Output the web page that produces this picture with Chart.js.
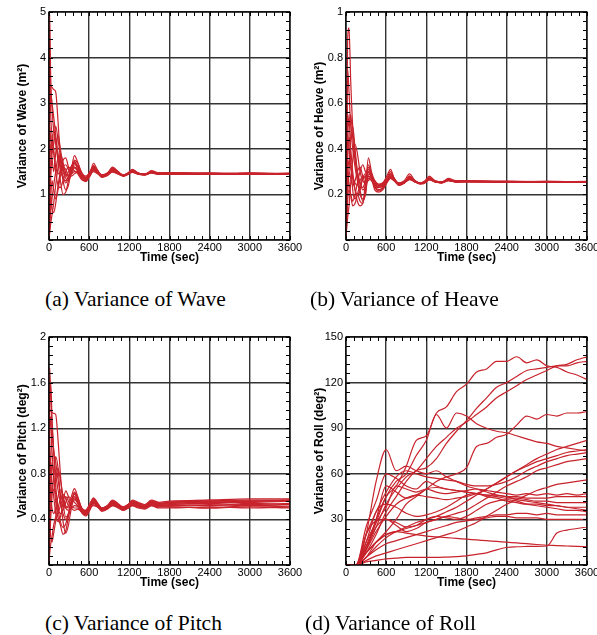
<!DOCTYPE html>
<html lang="en">
<head>
  <meta charset="UTF-8" />
  <title>Variance time histories</title>
  <script src="https://cdn.jsdelivr.net/npm/chart.js@4.4.0/dist/chart.umd.min.js"></script>
  <style>
    * { margin: 0; padding: 0; box-sizing: border-box; }
    body { background: #fff; width: 597px; height: 635px; position: relative; overflow: hidden; }
    canvas { position: absolute; }
    .cap { position: absolute; font-family: 'Liberation Serif', 'Times New Roman', serif; font-size: 21.5px; line-height: 22px; color: #000; white-space: nowrap; }
  </style>
</head>
<body>
  <canvas id="waveChart" width="305" height="270" style="left:0;top:0"></canvas>
  <canvas id="heaveChart" width="300" height="270" style="left:297px;top:0"></canvas>
  <canvas id="pitchChart" width="305" height="270" style="left:0;top:325px"></canvas>
  <canvas id="rollChart" width="300" height="270" style="left:297px;top:325px"></canvas>

  <div class="cap" style="left:45px;top:288px">(a) Variance of Wave</div>
  <div class="cap" style="left:310px;top:288px">(b) Variance of Heave</div>
  <div class="cap" style="left:45px;top:612px">(c) Variance of Pitch</div>
  <div class="cap" style="left:305px;top:612px">(d) Variance of Roll</div>

  <script>
    // sample times (sec) for wave / heave / pitch runs
    const tEarly = [0, 10, 25, 45, 70, 100, 135, 170, 210, 250, 290, 335, 380, 430, 490, 550, 610, 665, 720, 790,
                    870, 950, 1030, 1110, 1180, 1245, 1330, 1430, 1530, 1640, 1800, 2400, 3000, 3600];

    // variance of wave (m^2), one row per run
    const waveRuns = [
      [0.1, 4.95, 3.6, 2.9, 2.4, 2.1, 1.8, 1.55, 1.35, 1.3, 1.4, 1.6, 1.72, 1.6, 1.38, 1.36, 1.48, 1.58, 1.5, 1.4, 1.45, 1.55, 1.48, 1.42, 1.47, 1.52, 1.46, 1.44, 1.5, 1.46, 1.47, 1.45, 1.46, 1.45],
      [2.2, 3.4, 3.38, 3.35, 3.3, 3.25, 2.6, 1.8, 1.3, 1.1, 1.2, 1.55, 1.85, 1.7, 1.42, 1.3, 1.45, 1.68, 1.55, 1.38, 1.45, 1.6, 1.5, 1.4, 1.46, 1.55, 1.47, 1.43, 1.52, 1.47, 1.48, 1.46, 1.45, 1.46],
      [0.05, 0.3, 0.6, 0.9, 1.2, 1.5, 1.8, 1.7, 1.5, 1.35, 1.3, 1.45, 1.6, 1.55, 1.4, 1.35, 1.45, 1.55, 1.5, 1.42, 1.44, 1.52, 1.47, 1.42, 1.46, 1.5, 1.45, 1.44, 1.48, 1.45, 1.46, 1.44, 1.45, 1.44],
      [1.0, 2.9, 3.2, 3.0, 2.7, 2.3, 1.9, 1.6, 1.4, 1.25, 1.35, 1.5, 1.68, 1.62, 1.45, 1.33, 1.42, 1.6, 1.52, 1.4, 1.43, 1.56, 1.5, 1.41, 1.45, 1.53, 1.47, 1.45, 1.49, 1.46, 1.45, 1.47, 1.44, 1.46],
      [0.3, 0.8, 1.3, 2.0, 2.4, 2.2, 1.7, 1.3, 1.0, 1.05, 1.3, 1.5, 1.6, 1.5, 1.35, 1.3, 1.42, 1.55, 1.48, 1.39, 1.42, 1.53, 1.46, 1.4, 1.44, 1.5, 1.45, 1.43, 1.47, 1.44, 1.45, 1.45, 1.46, 1.44],
      [0.5, 1.5, 2.1, 1.8, 1.5, 1.9, 2.3, 2.0, 1.6, 1.4, 1.5, 1.62, 1.7, 1.55, 1.4, 1.38, 1.5, 1.62, 1.52, 1.43, 1.47, 1.57, 1.49, 1.43, 1.47, 1.53, 1.47, 1.45, 1.5, 1.47, 1.46, 1.46, 1.47, 1.45],
      [0.0, 0.4, 0.9, 1.3, 1.1, 0.9, 1.1, 1.4, 1.6, 1.65, 1.55, 1.45, 1.5, 1.48, 1.33, 1.28, 1.4, 1.52, 1.47, 1.38, 1.41, 1.5, 1.45, 1.4, 1.44, 1.49, 1.44, 1.43, 1.47, 1.44, 1.44, 1.44, 1.45, 1.45],
      [1.6, 2.5, 2.2, 1.9, 2.1, 2.5, 2.2, 1.85, 1.55, 1.45, 1.42, 1.55, 1.65, 1.6, 1.46, 1.4, 1.47, 1.6, 1.53, 1.42, 1.46, 1.55, 1.49, 1.42, 1.46, 1.51, 1.46, 1.44, 1.49, 1.46, 1.47, 1.45, 1.46, 1.46],
      [0.2, 0.6, 1.0, 0.7, 0.6, 0.8, 1.2, 1.5, 1.75, 1.8, 1.6, 1.4, 1.45, 1.5, 1.38, 1.32, 1.44, 1.5, 1.46, 1.41, 1.43, 1.49, 1.45, 1.41, 1.45, 1.48, 1.45, 1.44, 1.47, 1.45, 1.45, 1.44, 1.45, 1.45],
      [3.0, 4.2, 2.8, 2.3, 1.9, 1.6, 1.45, 1.5, 1.6, 1.55, 1.4, 1.48, 1.58, 1.52, 1.37, 1.35, 1.46, 1.57, 1.5, 1.4, 1.44, 1.54, 1.47, 1.42, 1.46, 1.52, 1.46, 1.44, 1.49, 1.45, 1.46, 1.46, 1.45, 1.46],
      [0.8, 1.2, 1.6, 2.3, 2.0, 1.5, 1.2, 1.15, 1.3, 1.5, 1.6, 1.55, 1.52, 1.45, 1.32, 1.3, 1.4, 1.54, 1.48, 1.38, 1.42, 1.51, 1.46, 1.41, 1.45, 1.5, 1.45, 1.43, 1.48, 1.45, 1.46, 1.45, 1.44, 1.45],
      [0.05, 0.15, 0.35, 0.55, 0.8, 1.2, 1.6, 1.9, 1.7, 1.45, 1.35, 1.5, 1.75, 1.68, 1.48, 1.36, 1.44, 1.63, 1.53, 1.41, 1.45, 1.58, 1.5, 1.42, 1.46, 1.54, 1.47, 1.44, 1.5, 1.46, 1.46, 1.45, 1.46, 1.45]
    ];

    // variance of heave (m^2)
    const heaveRuns = [
      [0.02, 0.5, 0.88, 0.93, 0.7, 0.5, 0.38, 0.3, 0.25, 0.22, 0.24, 0.36, 0.3, 0.26, 0.24, 0.25, 0.28, 0.31, 0.27, 0.25, 0.26, 0.29, 0.26, 0.25, 0.26, 0.28, 0.26, 0.255, 0.27, 0.26, 0.26, 0.258, 0.256, 0.257],
      [0.3, 0.55, 0.52, 0.5, 0.55, 0.45, 0.35, 0.28, 0.22, 0.17, 0.2, 0.3, 0.27, 0.23, 0.22, 0.23, 0.26, 0.29, 0.27, 0.24, 0.25, 0.28, 0.26, 0.25, 0.255, 0.275, 0.26, 0.255, 0.265, 0.258, 0.258, 0.255, 0.257, 0.255],
      [0.0, 0.05, 0.1, 0.15, 0.25, 0.35, 0.42, 0.38, 0.3, 0.26, 0.25, 0.27, 0.26, 0.24, 0.235, 0.245, 0.26, 0.27, 0.26, 0.245, 0.25, 0.265, 0.255, 0.248, 0.252, 0.265, 0.255, 0.252, 0.26, 0.255, 0.256, 0.254, 0.256, 0.255],
      [0.1, 0.2, 0.35, 0.45, 0.4, 0.3, 0.22, 0.17, 0.15, 0.16, 0.22, 0.28, 0.27, 0.22, 0.21, 0.22, 0.25, 0.27, 0.26, 0.24, 0.25, 0.27, 0.255, 0.245, 0.25, 0.27, 0.256, 0.25, 0.262, 0.255, 0.257, 0.256, 0.254, 0.256],
      [0.05, 0.15, 0.25, 0.3, 0.27, 0.24, 0.26, 0.3, 0.32, 0.28, 0.25, 0.26, 0.28, 0.26, 0.245, 0.25, 0.265, 0.28, 0.265, 0.25, 0.255, 0.27, 0.258, 0.25, 0.255, 0.268, 0.257, 0.253, 0.263, 0.256, 0.257, 0.255, 0.256, 0.254],
      [0.45, 0.6, 0.48, 0.4, 0.33, 0.28, 0.25, 0.24, 0.26, 0.28, 0.27, 0.32, 0.29, 0.25, 0.23, 0.24, 0.27, 0.3, 0.27, 0.245, 0.25, 0.28, 0.26, 0.248, 0.254, 0.272, 0.258, 0.253, 0.265, 0.257, 0.257, 0.256, 0.255, 0.256],
      [0.01, 0.08, 0.18, 0.22, 0.2, 0.17, 0.2, 0.25, 0.3, 0.33, 0.3, 0.27, 0.265, 0.25, 0.24, 0.245, 0.26, 0.275, 0.262, 0.248, 0.252, 0.268, 0.256, 0.249, 0.253, 0.266, 0.256, 0.252, 0.261, 0.255, 0.256, 0.255, 0.255, 0.255],
      [0.2, 0.35, 0.75, 0.65, 0.5, 0.4, 0.32, 0.26, 0.2, 0.18, 0.2, 0.29, 0.28, 0.24, 0.22, 0.228, 0.255, 0.285, 0.268, 0.242, 0.25, 0.275, 0.258, 0.247, 0.253, 0.27, 0.257, 0.252, 0.263, 0.256, 0.258, 0.256, 0.257, 0.254],
      [0.15, 0.25, 0.3, 0.35, 0.32, 0.27, 0.22, 0.2, 0.22, 0.27, 0.29, 0.28, 0.27, 0.25, 0.24, 0.25, 0.262, 0.272, 0.26, 0.248, 0.252, 0.266, 0.255, 0.249, 0.252, 0.264, 0.255, 0.252, 0.26, 0.255, 0.255, 0.254, 0.255, 0.256],
      [0.05, 0.1, 0.2, 0.3, 0.45, 0.5, 0.4, 0.3, 0.25, 0.23, 0.26, 0.31, 0.28, 0.245, 0.23, 0.236, 0.258, 0.29, 0.27, 0.244, 0.25, 0.272, 0.257, 0.248, 0.253, 0.268, 0.256, 0.252, 0.262, 0.256, 0.256, 0.257, 0.255, 0.255],
      [0.3, 0.4, 0.3, 0.25, 0.2, 0.15, 0.16, 0.2, 0.24, 0.27, 0.28, 0.3, 0.27, 0.24, 0.23, 0.24, 0.26, 0.28, 0.265, 0.246, 0.251, 0.27, 0.256, 0.248, 0.253, 0.267, 0.256, 0.252, 0.262, 0.255, 0.256, 0.255, 0.256, 0.255],
      [0.08, 0.3, 0.45, 0.55, 0.35, 0.22, 0.18, 0.2, 0.17, 0.16, 0.25, 0.33, 0.29, 0.235, 0.215, 0.225, 0.255, 0.29, 0.268, 0.243, 0.25, 0.274, 0.257, 0.247, 0.253, 0.27, 0.257, 0.252, 0.263, 0.256, 0.257, 0.255, 0.256, 0.256]
    ];

    // variance of pitch (deg^2)
    const pitchRuns = [
      [0.05, 1.73, 1.5, 1.2, 1.0, 0.9, 0.75, 0.62, 0.55, 0.5, 0.52, 0.6, 0.67, 0.6, 0.5, 0.48, 0.54, 0.59, 0.55, 0.5, 0.52, 0.57, 0.54, 0.51, 0.53, 0.57, 0.55, 0.53, 0.57, 0.55, 0.56, 0.57, 0.58, 0.58],
      [1.2, 1.36, 1.35, 1.34, 1.33, 1.32, 1.1, 0.8, 0.55, 0.42, 0.45, 0.55, 0.62, 0.57, 0.47, 0.44, 0.5, 0.57, 0.53, 0.48, 0.5, 0.55, 0.52, 0.49, 0.51, 0.55, 0.53, 0.51, 0.55, 0.53, 0.54, 0.55, 0.56, 0.56],
      [0.02, 0.2, 0.4, 0.6, 0.8, 0.95, 0.85, 0.6, 0.38, 0.28, 0.35, 0.5, 0.58, 0.55, 0.46, 0.43, 0.48, 0.55, 0.52, 0.47, 0.49, 0.54, 0.51, 0.48, 0.5, 0.54, 0.52, 0.5, 0.54, 0.52, 0.52, 0.53, 0.52, 0.53],
      [0.5, 1.1, 1.3, 1.0, 0.8, 0.62, 0.5, 0.45, 0.48, 0.55, 0.6, 0.58, 0.55, 0.52, 0.48, 0.47, 0.51, 0.55, 0.52, 0.49, 0.5, 0.53, 0.51, 0.49, 0.5, 0.53, 0.51, 0.5, 0.53, 0.51, 0.51, 0.5, 0.51, 0.5],
      [0.1, 0.3, 0.5, 0.7, 0.6, 0.45, 0.38, 0.42, 0.55, 0.65, 0.6, 0.52, 0.5, 0.5, 0.47, 0.48, 0.52, 0.54, 0.52, 0.5, 0.51, 0.53, 0.52, 0.5, 0.51, 0.53, 0.52, 0.51, 0.53, 0.52, 0.53, 0.54, 0.53, 0.54],
      [0.8, 1.0, 0.85, 0.7, 0.65, 0.75, 0.85, 0.75, 0.6, 0.5, 0.48, 0.56, 0.63, 0.58, 0.49, 0.46, 0.52, 0.58, 0.54, 0.49, 0.51, 0.56, 0.53, 0.5, 0.52, 0.56, 0.54, 0.52, 0.56, 0.54, 0.55, 0.56, 0.57, 0.57],
      [0.02, 0.1, 0.18, 0.25, 0.35, 0.42, 0.5, 0.58, 0.62, 0.58, 0.52, 0.5, 0.52, 0.51, 0.46, 0.45, 0.5, 0.53, 0.51, 0.48, 0.49, 0.52, 0.5, 0.48, 0.5, 0.52, 0.5, 0.49, 0.52, 0.5, 0.5, 0.51, 0.5, 0.51],
      [0.3, 0.6, 0.9, 1.2, 1.0, 0.7, 0.5, 0.38, 0.33, 0.36, 0.45, 0.55, 0.6, 0.56, 0.47, 0.45, 0.51, 0.56, 0.53, 0.48, 0.5, 0.55, 0.52, 0.49, 0.51, 0.55, 0.53, 0.51, 0.55, 0.53, 0.54, 0.55, 0.55, 0.56],
      [0.15, 0.45, 0.7, 0.9, 0.75, 0.55, 0.42, 0.35, 0.27, 0.3, 0.42, 0.53, 0.57, 0.54, 0.46, 0.44, 0.5, 0.55, 0.52, 0.48, 0.5, 0.54, 0.51, 0.49, 0.51, 0.54, 0.52, 0.5, 0.54, 0.52, 0.53, 0.52, 0.54, 0.53],
      [0.6, 0.75, 0.6, 0.5, 0.45, 0.5, 0.6, 0.66, 0.6, 0.52, 0.5, 0.54, 0.59, 0.56, 0.5, 0.47, 0.52, 0.57, 0.54, 0.5, 0.52, 0.56, 0.53, 0.51, 0.53, 0.56, 0.54, 0.52, 0.56, 0.54, 0.55, 0.56, 0.56, 0.57],
      [0.05, 0.35, 0.25, 0.2, 0.28, 0.38, 0.45, 0.52, 0.58, 0.6, 0.56, 0.5, 0.48, 0.49, 0.47, 0.47, 0.5, 0.52, 0.51, 0.49, 0.5, 0.52, 0.51, 0.49, 0.5, 0.52, 0.51, 0.5, 0.52, 0.51, 0.51, 0.5, 0.52, 0.51],
      [0.9, 1.4, 1.6, 1.3, 1.0, 0.8, 0.66, 0.55, 0.45, 0.4, 0.44, 0.54, 0.64, 0.59, 0.49, 0.45, 0.51, 0.58, 0.54, 0.49, 0.51, 0.56, 0.53, 0.5, 0.52, 0.56, 0.54, 0.52, 0.56, 0.54, 0.55, 0.57, 0.56, 0.57]
    ];

    // roll runs are sampled every 150 s
    const tRoll = [0, 150, 300, 450, 600, 750, 900, 1050, 1200, 1350, 1500, 1650, 1800, 1950, 2100, 2250, 2400,
                   2550, 2700, 2850, 3000, 3150, 3300, 3450, 3600];

    // variance of roll (deg^2)
    const rollRuns = [
      [0, 0, 12, 30, 45, 52, 65, 82, 85, 100, 104, 114, 119, 127, 129, 134, 134, 137, 133, 135, 131, 130, 127, 125, 122],
      [0, 0, 10, 25, 40, 50, 58, 62, 70, 78, 84, 90, 94, 99, 104, 110, 114, 118, 122, 125, 128, 131, 132, 135, 137],
      [0, 0, 8, 20, 35, 45, 55, 62, 64, 70, 80, 88, 95, 103, 110, 117, 120, 124, 128, 129, 130, 131, 131, 133, 134],
      [0, 0, 12, 28, 45, 55, 60, 72, 82, 99, 90, 100, 98, 93, 90, 88, 87, 85, 83, 81, 80, 78, 77, 76, 75],
      [0, 0, 5, 15, 22, 30, 40, 45, 50, 55, 58, 60, 64, 78, 80, 84, 86, 92, 98, 96, 99, 98, 100, 100, 101],
      [0, 0, 10, 22, 32, 40, 44, 46, 45, 44, 43, 44, 45, 47, 50, 54, 58, 62, 66, 70, 73, 76, 78, 80, 82],
      [0, 0, 5, 12, 18, 22, 25, 28, 30, 32, 35, 38, 42, 46, 50, 54, 58, 62, 65, 68, 70, 72, 74, 75, 76],
      [0, 0, 20, 35, 48, 58, 62, 60, 58, 57, 56, 55, 53, 52, 52, 53, 55, 58, 62, 65, 68, 70, 72, 73, 74],
      [0, 0, 8, 15, 20, 22, 24, 26, 28, 30, 32, 34, 36, 40, 44, 48, 52, 55, 58, 62, 64, 66, 68, 69, 70],
      [0, 0, 3, 6, 8, 10, 12, 14, 16, 18, 20, 22, 25, 28, 32, 36, 40, 43, 46, 49, 51, 53, 54, 55, 56],
      [0, 0, 15, 28, 38, 52, 50, 48, 50, 48, 47, 48, 49, 50, 49, 48, 47, 46, 47, 46, 47, 46, 47, 46, 47],
      [0, 0, 25, 42, 60, 57, 52, 50, 55, 52, 50, 49, 48, 47, 46, 46, 45, 45, 44, 44, 44, 45, 45, 45, 45],
      [0, 0, 10, 30, 52, 48, 44, 46, 50, 51, 50, 49, 48, 47, 46, 45, 44, 44, 43, 42, 42, 41, 41, 41, 41],
      [0, 0, 15, 35, 40, 38, 34, 32, 33, 35, 38, 42, 46, 47, 45, 44, 42, 41, 40, 40, 39, 39, 38, 38, 38],
      [0, 0, 12, 25, 30, 28, 25, 26, 30, 32, 31, 30, 32, 36, 40, 42, 43, 42, 40, 39, 38, 37, 36, 36, 35],
      [0, 0, 20, 29, 30, 26, 22, 24, 28, 30, 32, 31, 30, 31, 32, 33, 33, 34, 34, 33, 34, 33, 33, 33, 33],
      [0, 0, 5, 10, 14, 16, 18, 20, 22, 24, 26, 28, 29, 30, 31, 32, 32, 31, 31, 31, 30, 30, 30, 30, 30],
      [0, 0, 2, 3, 4, 4.5, 5, 5, 5, 5, 5.2, 5.5, 6, 7, 8, 10, 11.5, 12, 12.2, 12.3, 12.5, 21, 23, 24, 25],
      [0, 0, 8, 15, 20, 22, 21, 20, 19, 18.5, 18, 17.5, 17, 16.5, 16, 15.5, 15, 14.5, 14, 13.5, 13, 12.8, 12.5, 12.2, 12],
      [0, 0, 20, 55, 76, 62, 65, 62, 60, 62, 58, 55, 52, 50, 48, 46, 45, 43, 42, 41, 40, 39, 38, 37, 36]
    ];

    const RED = "#c8232c";
    Chart.defaults.font.family = "'Liberation Sans', Arial, sans-serif";
    Chart.defaults.color = "#000";
    Chart.defaults.animation = false;

    // closed frame plus small inward minor ticks on all four sides
    const framePlugin = {
      id: "frame",
      afterDraw(chart, args, opts) {
        const { ctx, chartArea: a, scales } = chart;
        const x = scales.x, y = scales.y;
        ctx.save();
        ctx.strokeStyle = "#000";
        ctx.lineWidth = 1;
        ctx.beginPath();
        for (let v = 0; v <= x.max; v += opts.xMinor) {
          const px = Math.round(x.getPixelForValue(v)) + 0.5;
          ctx.moveTo(px, a.top); ctx.lineTo(px, a.top + 4);
          ctx.moveTo(px, a.bottom); ctx.lineTo(px, a.bottom - 4);
        }
        for (let v = 0; v <= y.max + 1e-9; v += opts.yMinor) {
          const py = Math.round(y.getPixelForValue(v)) + 0.5;
          ctx.moveTo(a.left, py); ctx.lineTo(a.left + 4, py);
          ctx.moveTo(a.right, py); ctx.lineTo(a.right - 4, py);
        }
        ctx.stroke();
        ctx.lineWidth = 1.2;
        ctx.strokeRect(a.left, a.top, a.right - a.left, a.bottom - a.top);
        ctx.restore();
      }
    };

    function makePanel(id, times, runs, yMax, yStep, yMinor, yTitle, rightPad, width) {
      new Chart(document.getElementById(id), {
        type: "line",
        data: {
          datasets: runs.map(run => ({
            data: run.map((v, i) => ({ x: times[i], y: v })),
            borderColor: RED,
            borderWidth: width,
            pointRadius: 0,
            cubicInterpolationMode: "monotone",
            fill: false
          }))
        },
        options: {
          responsive: false,
          layout: { padding: { top: 12, right: rightPad, left: 0, bottom: 0 } },
          plugins: {
            legend: { display: false },
            tooltip: { enabled: false },
            frame: { xMinor: 120, yMinor: yMinor }
          },
          scales: {
            x: {
              type: "linear", min: 0, max: 3600,
              ticks: { stepSize: 600, padding: 1, maxRotation: 0, font: { size: 11 }, callback: v => String(v) },
              grid: { color: "#333", lineWidth: 1.4, drawTicks: false },
              border: { display: false },
              title: { display: true, text: "Time (sec)", font: { size: 12, weight: "bold" }, padding: { top: 0, bottom: 5 } },
              afterFit(s) { s.height = 30; s.paddingLeft = 0; s.paddingRight = 0; }
            },
            y: {
              type: "linear", min: 0, max: yMax,
              ticks: {
                stepSize: yStep, padding: 3, font: { size: 11 },
                callback: v => v === 0 ? "" : String(Math.round(v * 100) / 100)
              },
              grid: { color: "#333", lineWidth: 1.4, drawTicks: false },
              border: { display: false },
              title: { display: true, text: yTitle, font: { size: 12, weight: "bold" }, padding: { top: 15, bottom: 0 } },
              afterFit(s) { s.width = 49; s.paddingTop = 0; s.paddingBottom = 0; }
            }
          }
        },
        plugins: [framePlugin]
      });
    }

    makePanel("waveChart", tEarly, waveRuns, 5, 1, 0.2, "Variance of Wave (m²)", 15, 1.2);
    makePanel("heaveChart", tEarly, heaveRuns, 1, 0.2, 0.04, "Variance of Heave (m²)", 10, 1.2);
    makePanel("pitchChart", tEarly, pitchRuns, 2, 0.4, 0.08, "Variance of Pitch (deg²)", 15, 1.2);
    makePanel("rollChart", tRoll, rollRuns, 150, 30, 6, "Variance of Roll (deg²)", 10, 1.2);
  </script>
</body>
</html>
